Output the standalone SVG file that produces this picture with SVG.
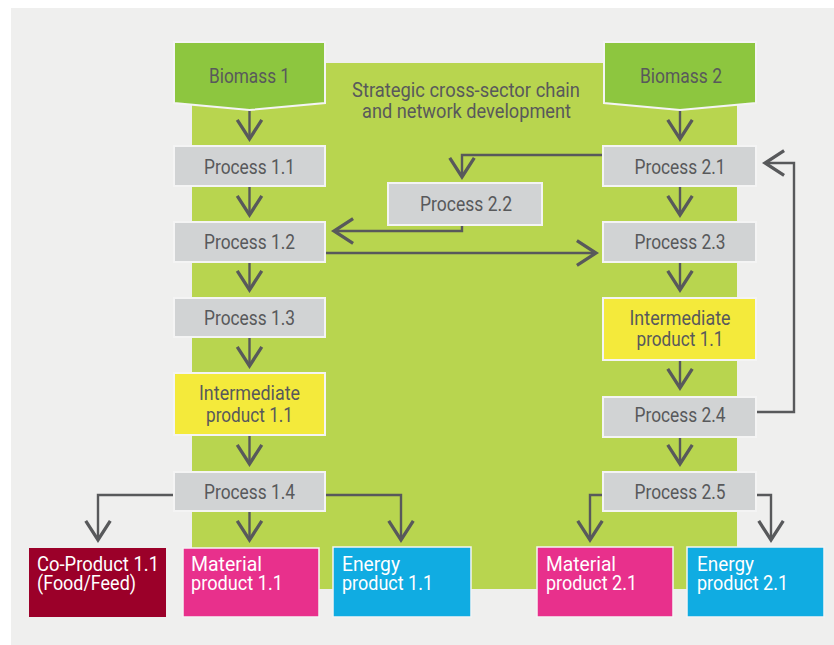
<svg xmlns="http://www.w3.org/2000/svg" width="834" height="645" viewBox="0 0 834 645">
<defs>
<style>
.t{font-family:Roboto,"Liberation Sans",sans-serif;font-size:20px;fill:#58595b;text-anchor:middle}
.w{font-family:Roboto,"Liberation Sans",sans-serif;font-size:20px;fill:#ffffff}
.proc{fill:#d1d3d4;stroke:#f4f4f4;stroke-width:2}
.inter{fill:#f4ea3b;stroke:#f4f4f4;stroke-width:2}
.bio{fill:#8dc63f;stroke:#f4f4f4;stroke-width:2}
.con{fill:none;stroke:#58595b;stroke-width:2.4;marker-end:url(#ah)}
</style>
<marker id="ah" markerUnits="userSpaceOnUse" markerWidth="30" markerHeight="30" refX="0" refY="0" viewBox="-16 -11 18 22" orient="auto" overflow="visible">
<path d="M-14,-9 L0,0 L-14,9" fill="none" stroke="#58595b" stroke-width="2.4"/>
</marker>
</defs>
<rect x="0" y="0" width="834" height="645" fill="#ffffff"/>
<rect x="11" y="8" width="823" height="637" fill="#efefee"/>
<rect x="192" y="63" width="545" height="526" fill="#b8d54f"/>
<text class="t" x="466" y="97" textLength="228" lengthAdjust="spacingAndGlyphs">Strategic cross-sector chain</text>
<text class="t" x="466.5" y="118" textLength="209" lengthAdjust="spacingAndGlyphs">and network development</text>

<g id="connectors">
<path class="con" d="M249.5 110 V139"/>
<path class="con" d="M249.5 186 V215"/>
<path class="con" d="M249.5 262 V290"/>
<path class="con" d="M249.5 337 V366"/>
<path class="con" d="M249.5 435 V464"/>
<path class="con" d="M249.5 511 V540"/>
<path class="con" d="M174 495 H98 V540"/>
<path class="con" d="M325 495 H401 V540"/>
<path class="con" d="M680 110 V139"/>
<path class="con" d="M603 155 H462 V177"/>
<path class="con" d="M462 225 V231 H334"/>
<path class="con" d="M325 253 H596"/>
<path class="con" d="M680 186 V215"/>
<path class="con" d="M680 262 V290"/>
<path class="con" d="M680 360 V388"/>
<path class="con" d="M756 412 H794 V163 H765"/>
<path class="con" d="M680 437 V464"/>
<path class="con" d="M603 495 H590 V540"/>
<path class="con" d="M756 495 H771 V540"/>
</g>

<g id="biomass1">
<path class="bio" d="M174 42 H325 V103 L249.5 110 L174 103 Z"/>
<text class="t" x="249.5" y="83" textLength="81" lengthAdjust="spacingAndGlyphs">Biomass 1</text>
</g>
<g id="biomass2">
<path class="bio" d="M604 42 H756 V103 L680 110 L604 103 Z"/>
<text class="t" x="681" y="83" textLength="82" lengthAdjust="spacingAndGlyphs">Biomass 2</text>
</g>

<g id="process11">
<rect class="proc" x="174" y="146" width="151" height="40"/>
<text class="t" x="249.5" y="174" textLength="91" lengthAdjust="spacingAndGlyphs">Process 1.1</text>
</g>
<g id="process12">
<rect class="proc" x="174" y="222" width="151" height="40"/>
<text class="t" x="249.5" y="249" textLength="91" lengthAdjust="spacingAndGlyphs">Process 1.2</text>
</g>
<g id="process13">
<rect class="proc" x="174" y="298" width="151" height="39"/>
<text class="t" x="249.5" y="325" textLength="91" lengthAdjust="spacingAndGlyphs">Process 1.3</text>
</g>
<g id="intermediate1">
<rect class="inter" x="174" y="373" width="151" height="62"/>
<text class="t" x="249.5" y="400" textLength="101" lengthAdjust="spacingAndGlyphs">Intermediate</text>
<text class="t" x="249.5" y="422" textLength="87" lengthAdjust="spacingAndGlyphs">product 1.1</text>
</g>
<g id="process14">
<rect class="proc" x="174" y="472" width="151" height="39"/>
<text class="t" x="249.5" y="499" textLength="91" lengthAdjust="spacingAndGlyphs">Process 1.4</text>
</g>

<g id="process21">
<rect class="proc" x="603" y="146" width="153" height="40"/>
<text class="t" x="680" y="174" textLength="91" lengthAdjust="spacingAndGlyphs">Process 2.1</text>
</g>
<g id="process22">
<rect class="proc" x="388" y="183" width="154" height="42"/>
<text class="t" x="466" y="211" textLength="92" lengthAdjust="spacingAndGlyphs">Process 2.2</text>
</g>
<g id="process23">
<rect class="proc" x="603" y="222" width="153" height="40"/>
<text class="t" x="680" y="249" textLength="91" lengthAdjust="spacingAndGlyphs">Process 2.3</text>
</g>
<g id="intermediate2">
<rect class="inter" x="603" y="298" width="153" height="62"/>
<text class="t" x="680" y="325" textLength="101" lengthAdjust="spacingAndGlyphs">Intermediate</text>
<text class="t" x="680" y="346" textLength="87" lengthAdjust="spacingAndGlyphs">product 1.1</text>
</g>
<g id="process24">
<rect class="proc" x="603" y="397" width="153" height="40"/>
<text class="t" x="680" y="422" textLength="91" lengthAdjust="spacingAndGlyphs">Process 2.4</text>
</g>
<g id="process25">
<rect class="proc" x="603" y="472" width="153" height="39"/>
<text class="t" x="680" y="499" textLength="91" lengthAdjust="spacingAndGlyphs">Process 2.5</text>
</g>

<g id="coproduct11">
<rect x="29" y="548" width="137" height="69" fill="#9b0029"/>
<text class="w" x="37" y="571" textLength="122" lengthAdjust="spacingAndGlyphs">Co-Product 1.1</text>
<text class="w" x="37" y="590" textLength="99" lengthAdjust="spacingAndGlyphs">(Food/Feed)</text>
</g>
<g id="material11">
<rect x="183" y="548" width="136" height="69" fill="#e8308c" stroke="#f4f4f4" stroke-width="1.5"/>
<text class="w" x="191" y="571" textLength="71" lengthAdjust="spacingAndGlyphs">Material</text>
<text class="w" x="191" y="590" textLength="92" lengthAdjust="spacingAndGlyphs">product 1.1</text>
</g>
<g id="energy11">
<rect x="333" y="547" width="138" height="70" fill="#10ace2" stroke="#f4f4f4" stroke-width="1.5"/>
<text class="w" x="342" y="571" textLength="58" lengthAdjust="spacingAndGlyphs">Energy</text>
<text class="w" x="342" y="590" textLength="91" lengthAdjust="spacingAndGlyphs">product 1.1</text>
</g>
<g id="material21">
<rect x="537" y="547" width="136" height="70" fill="#e8308c" stroke="#f4f4f4" stroke-width="1.5"/>
<text class="w" x="546" y="571" textLength="70" lengthAdjust="spacingAndGlyphs">Material</text>
<text class="w" x="546" y="590" textLength="91" lengthAdjust="spacingAndGlyphs">product 2.1</text>
</g>
<g id="energy21">
<rect x="687" y="547" width="137" height="70" fill="#10ace2" stroke="#f4f4f4" stroke-width="1.5"/>
<text class="w" x="697" y="571" textLength="57" lengthAdjust="spacingAndGlyphs">Energy</text>
<text class="w" x="697" y="590" textLength="91" lengthAdjust="spacingAndGlyphs">product 2.1</text>
</g>
</svg>
